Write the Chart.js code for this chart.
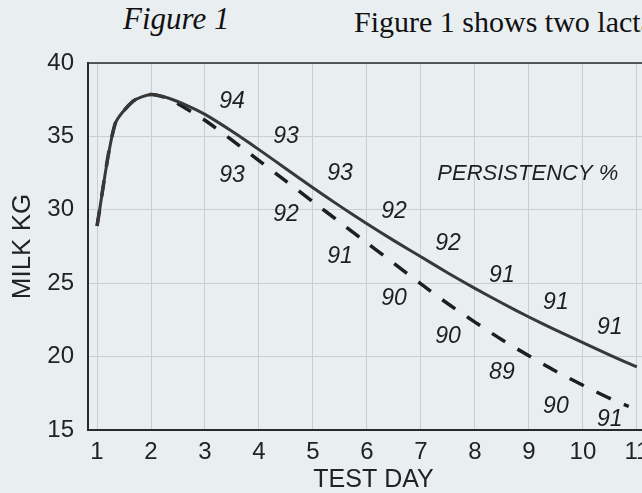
<!DOCTYPE html>
<html>
<head>
<meta charset="utf-8">
<script src="https://cdn.jsdelivr.net/npm/chart.js@4/dist/chart.umd.min.js"></script>
<style>
  html, body { margin: 0; padding: 0; }
  body { width: 642px; height: 493px; overflow: hidden; background: #e9eef1; position: relative; }
  .caption { position: absolute; font-family: "Liberation Serif", serif; line-height: 31px; color: #111; white-space: nowrap; }
  #cap1 { left: 123px; top: 3px; font-size: 31px; font-style: italic; }
  #cap2 { left: 354px; top: 6px; font-size: 30px; }
  #wrap { position: absolute; left: 0; top: 0; width: 680px; height: 493px; }
</style>
</head>
<body>
<div class="caption" id="cap1">Figure 1</div>
<div class="caption" id="cap2">Figure 1 shows two lactation curves</div>
<div id="wrap"><canvas id="chart"></canvas></div>

<script>
// DATA
// -----------------------------------------------------------------------------
var solidDays = [1, 1.33, 1.67, 2, 2.33, 2.67, 3, 3.5, 4, 4.5, 5, 5.5, 6, 6.5, 7, 7.5, 8, 8.5, 9, 9.5, 10, 10.5, 11];
var solidMilk = [28.9, 35.8, 37.4, 37.85, 37.6, 37.1, 36.5, 35.35, 34.1, 32.8, 31.5, 30.25, 29.05, 27.9, 26.8, 25.7, 24.65, 23.65, 22.7, 21.8, 20.95, 20.1, 19.3];

var dashedDays = [1, 1.33, 1.67, 2, 2.33, 2.67, 3, 3.5, 4, 4.5, 5, 5.5, 6, 6.5, 7, 7.5, 8, 8.5, 9, 9.5, 10, 10.5, 10.85];
var dashedMilk = [28.9, 35.8, 37.4, 37.85, 37.55, 36.85, 36.1, 34.75, 33.35, 31.95, 30.55, 29.15, 27.75, 26.35, 24.95, 23.6, 22.35, 21.15, 20.05, 19.0, 18.05, 17.15, 16.6];

// persistency % labels, placed between test days
var labelDays = [3.5, 4.5, 5.5, 6.5, 7.5, 8.5, 9.5, 10.5];
var upperPct = [94, 93, 93, 92, 92, 91, 91, 91];
var upperY = [37.4, 35.0, 32.45, 29.9, 27.7, 25.55, 23.65, 21.95];
var lowerPct = [93, 92, 91, 90, 90, 89, 90, 91];
var lowerY = [32.3, 29.7, 26.8, 23.95, 21.35, 18.9, 16.6, 15.7];

var xTicks = [1, 2, 3, 4, 5, 6, 7, 8, 9, 10, 11];
var yTicks = [15, 20, 25, 30, 35, 40];

function toPoints(xs, ys) {
    return xs.map(function(x, i) { return { x: x, y: ys[i] }; });
}

// PLUGIN: frame + persistency labels
// -----------------------------------------------------------------------------
var annotations = {
    id: 'annotations',
    afterDatasetsDraw: function(chart) {
        var ctx = chart.ctx;
        var xs = chart.scales.x;
        var ys = chart.scales.y;
        var area = chart.chartArea;

        ctx.save();
        ctx.strokeStyle = '#2a2a2a';
        ctx.lineWidth = 1.5;
        ctx.beginPath();
        ctx.moveTo(area.left, area.top);
        ctx.lineTo(area.right, area.top);
        ctx.lineTo(area.right, area.bottom);
        ctx.stroke();

        ctx.fillStyle = '#1e1e1e';
        ctx.textAlign = 'center';
        ctx.textBaseline = 'middle';
        ctx.font = 'italic 23px "Liberation Sans", Arial, sans-serif';
        labelDays.forEach(function(d, i) {
            ctx.fillText(String(upperPct[i]), xs.getPixelForValue(d), ys.getPixelForValue(upperY[i]));
            ctx.fillText(String(lowerPct[i]), xs.getPixelForValue(d), ys.getPixelForValue(lowerY[i]));
        });

        ctx.font = 'italic 22px "Liberation Sans", Arial, sans-serif';
        ctx.fillText('PERSISTENCY %', xs.getPixelForValue(8.98), ys.getPixelForValue(32.45));
        ctx.restore();
    }
};

// CHART
// -----------------------------------------------------------------------------
var ctxChart = document.getElementById('chart');
var milkChart = new Chart(ctxChart, {
    type: 'line',
    data: {
        datasets: [{
            data: toPoints(solidDays, solidMilk),
            borderColor: '#383838',
            borderWidth: 3,
            pointRadius: 0,
            tension: 0.25,
            fill: false
        }, {
            data: toPoints(dashedDays, dashedMilk),
            borderColor: '#1e1e1e',
            borderWidth: 3.5,
            borderDash: [16, 14],
            borderCapStyle: 'butt',
            pointRadius: 0,
            tension: 0.25,
            fill: false
        }]
    },
    options: {
        responsive: true,
        maintainAspectRatio: false,
        animation: false,
        events: [],
        layout: { padding: { top: 63, right: 21, left: 0, bottom: 0 } },
        plugins: {
            legend: { display: false },
            tooltip: { enabled: false }
        },
        scales: {
            x: {
                type: 'linear',
                min: 0.833,
                max: 11.41,
                afterFit: function(scale) { scale.height = 63; },
                afterBuildTicks: function(scale) {
                    scale.ticks = xTicks.map(function(v) { return { value: v }; });
                },
                ticks: {
                    padding: 8,
                    color: '#222',
                    maxRotation: 0,
                    autoSkip: false,
                    font: { family: '"Liberation Sans", Arial, sans-serif', size: 24 }
                },
                grid: { color: '#c9ced2', lineWidth: 1, drawTicks: false },
                border: { display: true, color: '#2a2a2a', width: 2 },
                title: {
                    display: true,
                    text: 'TEST DAY',
                    color: '#222',
                    padding: 0,
                    font: { family: '"Liberation Sans", Arial, sans-serif', size: 25, lineHeight: 1 }
                }
            },
            y: {
                min: 15,
                max: 40,
                afterFit: function(scale) { scale.width = 88; },
                afterBuildTicks: function(scale) {
                    scale.ticks = yTicks.map(function(v) { return { value: v }; });
                },
                ticks: {
                    padding: 14,
                    color: '#222',
                    font: { family: '"Liberation Sans", Arial, sans-serif', size: 24 }
                },
                grid: { color: '#c9ced2', lineWidth: 1, drawTicks: false },
                border: { display: true, color: '#2a2a2a', width: 2 },
                title: {
                    display: true,
                    text: 'MILK KG',
                    color: '#222',
                    padding: { top: 7, bottom: 0 },
                    font: { family: '"Liberation Sans", Arial, sans-serif', size: 26, lineHeight: 1.2 }
                }
            }
        }
    },
    plugins: [annotations]
});
</script>
</body>
</html>
